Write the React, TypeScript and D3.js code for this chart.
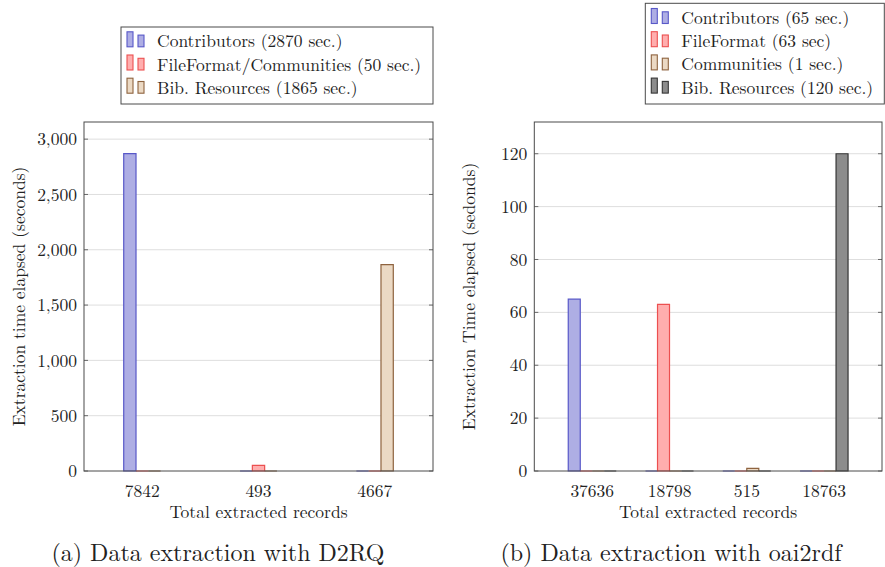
import React from "react";
import * as d3 from "d3";

// ---- Data ----
const leftCategories = ["7842", "493", "4667"];
const leftSeriesNames = ["Contributors (2870 sec.)", "FileFormat/Communities (50 sec.)", "Bib. Resources (1865 sec.)"];
const leftContributors = [2870, 0, 0];
const leftFileFormatCommunities = [0, 50, 0];
const leftBibResources = [0, 0, 1865];
const leftYTicks = [0, 500, 1000, 1500, 2000, 2500, 3000];

const rightCategories = ["37636", "18798", "515", "18763"];
const rightSeriesNames = ["Contributors (65 sec.)", "FileFormat (63 sec)", "Communities (1 sec.)", "Bib. Resources (120 sec.)"];
const rightContributors = [65, 0, 0, 0];
const rightFileFormat = [0, 63, 0, 0];
const rightCommunities = [0, 0, 1, 0];
const rightBibResources = [0, 0, 0, 120];
const rightYTicks = [0, 20, 40, 60, 80, 100, 120];

const palette = {
  blue: { fill: "#aeaee4", stroke: "#5858c8" },
  red: { fill: "#ffaeae", stroke: "#ec5050" },
  brown: { fill: "#ebd9c4", stroke: "#8e633f" },
  gray: { fill: "#8c8c8c", stroke: "#363636" },
};

const FONT = '"Latin Modern Roman", "Liberation Serif", serif';
const FS = 17.5;
const txt = (size: number): React.CSSProperties => ({ fontFamily: FONT, fontSize: size });

type PanelProps = {
  x0: number; x1: number; y0: number; y1: number;
  yMax: number;
  categories: string[];
  series: { values: number[]; color: { fill: string; stroke: string } }[];
  yTicks: number[];
  tickFormat: (v: number) => string;
  padding: number;
  barWidth: number;
  yLabel: string;
  yLabelX: number;
  caption: string;
  captionX: number;
};

function Panel(p: PanelProps) {
  const x = d3.scalePoint<string>().domain(p.categories).range([p.x0, p.x1]).padding(p.padding);
  const y = d3.scaleLinear().domain([0, p.yMax]).range([p.y1, p.y0]);
  const n = p.series.length;
  const frame = "#4a4a4a";
  const midX = (p.x0 + p.x1) / 2;
  const midY = (p.y0 + p.y1) / 2;
  return (
    <g>
      {p.yTicks.map((t) => (
        <g key={t}>
          {t !== 0 && <line x1={p.x0} x2={p.x1} y1={y(t)} y2={y(t)} stroke="#dedede" strokeWidth={1} />}
          <line x1={p.x0} x2={p.x0 + 4} y1={y(t)} y2={y(t)} stroke={frame} strokeWidth={0.8} />
          <line x1={p.x1 - 4} x2={p.x1} y1={y(t)} y2={y(t)} stroke={frame} strokeWidth={0.8} />
          <text x={p.x0 - 7} y={y(t)} dy="0.35em" textAnchor="end" style={txt(FS)} fill="#222">
            {p.tickFormat(t)}
          </text>
        </g>
      ))}
      {p.categories.map((c, ci) =>
        p.series.map((s, si) => {
          const cx = (x(c) as number) + (si - (n - 1) / 2) * p.barWidth;
          const bx = cx - p.barWidth / 2;
          const top = y(s.values[ci]);
          const base = y(0);
          return (
            <path
              key={c + "-" + si}
              d={`M${bx},${base}V${top}H${bx + p.barWidth}V${base}Z`}
              fill={s.color.fill}
              stroke={s.color.stroke}
              strokeWidth={1.2}
            />
          );
        })
      )}
      <rect x={p.x0} y={p.y0} width={p.x1 - p.x0} height={p.y1 - p.y0} fill="none" stroke={frame} strokeWidth={1} />
      {p.categories.map((c) => (
        <text key={c} x={x(c) as number} y={497} textAnchor="middle" style={txt(FS)} fill="#222">
          {c}
        </text>
      ))}
      <text x={midX} y={517.5} textAnchor="middle" style={txt(FS)} fill="#222">
        Total extracted records
      </text>
      <text
        transform={`translate(${p.yLabelX},${midY}) rotate(-90)`}
        textAnchor="middle"
        style={txt(FS)}
        fill="#222"
      >
        {p.yLabel}
      </text>
      <text x={p.captionX} y={561} textAnchor="middle" style={txt(24)} fill="#222">
        {p.caption}
      </text>
    </g>
  );
}

type LegendProps = {
  x: number; y: number; w: number; h: number;
  firstBaseline: number;
  names: string[];
  colors: { fill: string; stroke: string }[];
};

function Legend(l: LegendProps) {
  const pitch = 23.2;
  return (
    <g>
      <rect x={l.x} y={l.y} width={l.w} height={l.h} fill="white" stroke="#4a4a4a" strokeWidth={1} />
      {l.names.map((name, i) => {
        const base = l.firstBaseline + i * pitch;
        const c = l.colors[i];
        return (
          <g key={name}>
            <rect x={l.x + 6} y={base - 15.5} width={6} height={15} fill={c.fill} stroke={c.stroke} strokeWidth={1.1} />
            <rect x={l.x + 17} y={base - 12.2} width={6} height={11.7} fill={c.fill} stroke={c.stroke} strokeWidth={1.1} />
            <text x={l.x + 36} y={base} style={txt(FS)} fill="#222">
              {name}
            </text>
          </g>
        );
      })}
    </g>
  );
}

export default function App() {
  const fmt = d3.format(",");
  return (
    <svg width={885} height={567} style={{ position: "absolute", left: 0, top: 0, background: "white" }}>
      <Legend
        x={121} y={27} w={312} h={77}
        firstBaseline={47.3}
        names={leftSeriesNames}
        colors={[palette.blue, palette.red, palette.brown]}
      />
      <Panel
        x0={84} x1={433} y0={122} y1={471}
        yMax={3155}
        categories={leftCategories}
        series={[
          { values: leftContributors, color: palette.blue },
          { values: leftFileFormatCommunities, color: palette.red },
          { values: leftBibResources, color: palette.brown },
        ]}
        yTicks={leftYTicks}
        tickFormat={fmt}
        padding={0.5}
        barWidth={12.3}
        yLabel="Extraction time elapsed (seconds)"
        yLabelX={25}
        caption="(a) Data extraction with D2RQ"
        captionX={218}
      />
      <Legend
        x={645.3} y={3.3} w={239} h={100.7}
        firstBaseline={24}
        names={rightSeriesNames}
        colors={[palette.blue, palette.red, palette.brown, palette.gray]}
      />
      <Panel
        x0={534.3} x1={882} y0={122} y1={471}
        yMax={132}
        categories={rightCategories}
        series={[
          { values: rightContributors, color: palette.blue },
          { values: rightFileFormat, color: palette.red },
          { values: rightCommunities, color: palette.brown },
          { values: rightBibResources, color: palette.gray },
        ]}
        yTicks={rightYTicks}
        tickFormat={fmt}
        padding={0.75}
        barWidth={12}
        yLabel="Extraction Time elapsed (sedonds)"
        yLabelX={475}
        caption="(b) Data extraction with oai2rdf"
        captionX={671}
      />
    </svg>
  );
}
